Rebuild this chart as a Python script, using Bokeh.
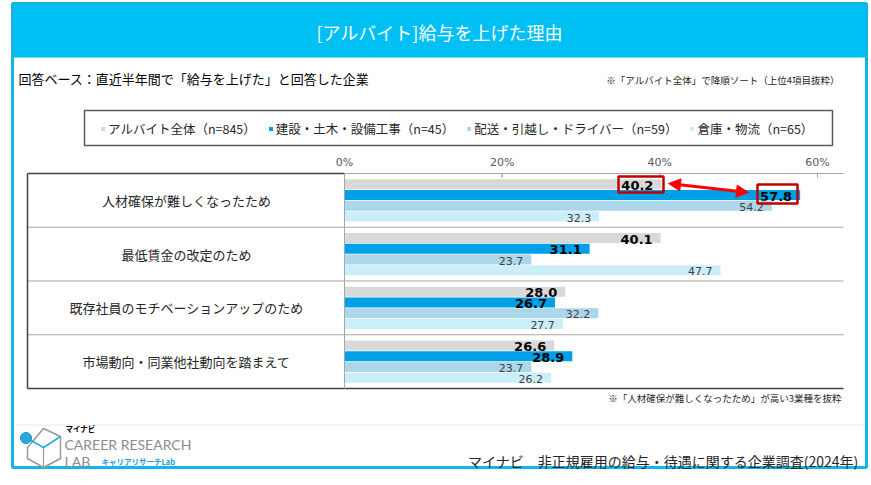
from bokeh.plotting import figure
from bokeh.models import (Range1d, FactorRange, ColumnDataSource, BoxAnnotation, Label, Legend,
                          LegendItem, Arrow, NormalHead, PolyAnnotation)
from bokeh.transform import dodge
from bokeh.core.properties import value
from bokeh.embed import file_html
from bokeh.resources import INLINE

# ---------------- data ----------------
categories = ["人材確保が難しくなったため", "最低賃金の改定のため",
              "既存社員のモチベーションアップのため", "市場動向・同業他社動向を踏まえて"]
series_names = ["アルバイト全体（n=845）", "建設・土木・設備工事（n=45）",
                "配送・引越し・ドライバー（n=59）", "倉庫・物流（n=65）"]
all_part_time = [40.2, 40.1, 28.0, 26.6]
construction = [57.8, 31.1, 26.7, 28.9]
delivery = [54.2, 23.7, 32.2, 23.7]
warehouse = [32.3, 47.7, 27.7, 26.2]
tick_values = [0, 20, 40, 60]

title_text = "[アルバイト]給与を上げた理由"
subtitle_text = "回答ベース：直近半年間で「給与を上げた」と回答した企業"
sort_note = "※「アルバイト全体」で降順ソート（上位4項目抜粋）"
foot_note = "※「人材確保が難しくなったため」が高い3業種を抜粋"
source_text = "マイナビ　非正規雇用の給与・待遇に関する企業調査(2024年)"

# ---------------- style / layout ----------------
JP = "Noto Sans CJK JP"
NUM = "DejaVu Sans"
colors = ["#d9d9d9", "#00a0e9", "#acd6ea", "#cbeffa"]
offsets = [0.3, 0.1, -0.1, -0.3]
CYAN = "#00bff3"

W, H = 871, 485
TABLE_L, TABLE_R, TABLE_T, TABLE_B = 27, 843, 173, 388
ZERO_X = 344
PX_PER_PCT = (817 - 344) / 60.0
n = len(categories)
UNIT = (TABLE_B - TABLE_T) / n                # px per category row
PAD = (H / UNIT - n) / 2.0                    # synthetic padding per side
SHIFT = PAD - TABLE_T / UNIT                  # moves the rows into the table block

p = figure(width=W, height=H, output_backend="svg", toolbar_location=None,
           x_range=Range1d(-ZERO_X / PX_PER_PCT, (W - ZERO_X) / PX_PER_PCT),
           y_range=FactorRange(factors=list(reversed(categories)), range_padding=PAD,
                               range_padding_units="absolute"),
           x_axis_location=None, y_axis_location=None, min_border=0)
p.outline_line_color = None
p.background_fill_color = "white"
p.border_fill_color = "white"
p.grid.visible = False


def cbox(l, r, t, b, **kw):
    kw.setdefault("fill_alpha", 1)
    kw.setdefault("line_alpha", 1)
    return BoxAnnotation(left=l, right=r, top=t, bottom=b, left_units="canvas", right_units="canvas",
                         top_units="canvas", bottom_units="canvas", **kw)


def clabel(x, y, text, **kw):
    return Label(x=x, y=y, x_units="canvas", y_units="canvas", text=text, **kw)


def hline(x0, x1, y, color, w=1.0):
    return cbox(x0, x1, y - w / 2, y + w / 2, fill_color=color, line_color=None)


# ---------------- outer frame / header ----------------
p.add_layout(cbox(12, 866, 3, 57, fill_color=CYAN, line_color=None))
p.add_layout(cbox(12, 866, 3, 467, fill_alpha=0, line_color="#12b5ea", line_width=3))
p.add_layout(clabel(439, 31, title_text, text_font=JP, text_font_size="18px", text_color="white",
                    text_align="center", text_baseline="middle"))
p.add_layout(clabel(18, 78, subtitle_text, text_font=JP, text_font_size="13px", text_color="#000000",
                    text_align="left", text_baseline="middle"))
p.add_layout(clabel(839, 79, sort_note, text_font=JP, text_font_size="9.5px", text_color="#262626",
                    text_align="right", text_baseline="middle"))

# ---------------- table structure ----------------
for k in range(1, n):
    p.add_layout(hline(TABLE_L, TABLE_R, TABLE_T + k * UNIT, "#a6a6a6"))
p.add_layout(hline(TABLE_L, ZERO_X, TABLE_T, "#404040", 1.5))
p.add_layout(hline(ZERO_X, TABLE_R, TABLE_T, "#a6a6a6", 1))
p.add_layout(hline(TABLE_L, TABLE_R, TABLE_B, "#404040", 1.5))
p.add_layout(cbox(TABLE_L - 0.75, TABLE_L + 0.75, TABLE_T, TABLE_B, fill_color="#404040", line_color=None))

# x ticks (data x, canvas y)
for t in tick_values:
    p.add_layout(Label(x=t, y=162, x_units="data", y_units="canvas", text=f"{t}%",
                       text_font=NUM, text_font_size="11px", text_color="#595959",
                       text_align="center", text_baseline="middle"))
    p.add_layout(BoxAnnotation(left=t, right=t, top=TABLE_T, bottom=TABLE_T + 4,
                               left_units="data", right_units="data", top_units="canvas",
                               bottom_units="canvas", fill_alpha=0, line_alpha=1,
                               line_color="#a6a6a6", line_width=1))

# ---------------- bars + labels ----------------
series_vals = [all_part_time, construction, delivery, warehouse]
renderers = []
for i, vals in enumerate(series_vals):
    src = ColumnDataSource(dict(cat=categories, v=vals, lbl=[f"{v:.1f}" for v in vals]))
    r = p.hbar(y=dodge("cat", SHIFT + offsets[i], range=p.y_range), left=0, right="v", height=0.19,
               fill_color=colors[i], line_color=None, source=src)
    renderers.append(r)
    bold = i < 2
    p.text(x="v", y=dodge("cat", SHIFT + offsets[i] - 0.02, range=p.y_range), text="lbl", source=src,
           x_offset=-8, text_align="right", text_baseline="middle",
           text_font=value(NUM), text_font_size=value("13px" if bold else "11px"),
           text_font_style=value("bold" if bold else "normal"),
           text_color="#000000" if bold else "#404040")

# vertical 0% line
p.add_layout(BoxAnnotation(left=0, right=0, top=TABLE_T, bottom=TABLE_B, left_units="data",
                           right_units="data", top_units="canvas", bottom_units="canvas",
                           fill_alpha=0, line_alpha=1, line_color="#a6a6a6", line_width=1))

# category labels
cat_src = ColumnDataSource(dict(cat=categories))
p.text(x=0, y=dodge("cat", SHIFT, range=p.y_range), text="cat", source=cat_src, x_offset=-158,
       text_align="center", text_baseline="middle", text_font=value(JP),
       text_font_size=value("13px"), text_color="#262626")

# ---------------- legend ----------------
legend = Legend(items=[LegendItem(label=series_names[i], renderers=[renderers[i]]) for i in range(4)],
                orientation="horizontal", location=(100, H - 138),
                label_text_font=JP, label_text_font_size="12.5px", label_text_color="#262626",
                glyph_width=5, glyph_height=5, label_standoff=3, spacing=12,
                padding=0, margin=0, border_line_color=None, background_fill_alpha=0)
p.add_layout(legend)
p.add_layout(cbox(84, 832, 110, 145, fill_alpha=0, line_color="#595959", line_width=1.5))

# ---------------- highlight boxes + arrow ----------------
p.add_layout(cbox(618, 663, 176, 192, fill_alpha=0, line_color="#c00000", line_width=2.5))
p.add_layout(cbox(757, 797, 184, 203, fill_alpha=0, line_color="#c00000", line_width=2.5))
p.add_layout(Arrow(start=NormalHead(size=12, fill_color="#ff0000", line_color="#ff0000"),
                   end=NormalHead(size=12, fill_color="#ff0000", line_color="#ff0000"),
                   x_start=668, y_start=183, x_end=748, y_end=192,
                   start_units="canvas", end_units="canvas", line_color="#ff0000", line_width=3))

# ---------------- notes / footer ----------------
p.add_layout(clabel(841, 397, foot_note, text_font=JP, text_font_size="9.5px", text_color="#262626",
                    text_align="right", text_baseline="middle"))
p.add_layout(hline(14, 864, 424.5, "#eeeeee"))
p.add_layout(clabel(858, 460, source_text, text_font=JP, text_font_size="14px", text_color="#262626",
                    text_align="right", text_baseline="middle"))

# logo
p.add_layout(PolyAnnotation(xs=[43, 60, 60, 43, 27, 27], ys=[428, 436, 458, 467, 458, 447],
                            xs_units="canvas", ys_units="canvas", fill_alpha=0, line_alpha=1,
                            line_color="#9a9a9a", line_width=1.5))
p.add_layout(PolyAnnotation(xs=[43, 43, 60, 43], ys=[447, 467, 458, 467],
                            xs_units="canvas", ys_units="canvas", fill_alpha=0, line_alpha=1,
                            line_color="#9a9a9a", line_width=1.2))
p.add_layout(PolyAnnotation(xs=[27, 43, 60, 43], ys=[438, 447, 436, 447],
                            xs_units="canvas", ys_units="canvas", fill_alpha=0, line_alpha=1,
                            line_color="#29a7e1", line_width=1.5))
p.add_layout(cbox(20, 31, 432, 443, fill_color="#29a7e1", line_color="#1b8fc6", border_radius=6))
p.add_layout(clabel(65, 428, "マイナビ", text_font=JP, text_font_size="7.5px", text_font_style="bold",
                    text_color="#000000", text_align="left", text_baseline="middle"))
p.add_layout(clabel(64, 444, "CAREER RESEARCH", text_font="Lato", text_font_size="14px",
                    text_color="#8c8c8c", text_align="left", text_baseline="middle"))
p.add_layout(clabel(64, 461, "LAB", text_font="Lato", text_font_size="14px",
                    text_color="#8c8c8c", text_align="left", text_baseline="middle"))
p.add_layout(clabel(101, 461, "キャリアリサーチLab", text_font=JP, text_font_size="7.5px",
                    text_font_style="bold", text_color="#1a9fe0", text_align="left", text_baseline="middle"))

open("out.html", "w").write(file_html(p, INLINE))
